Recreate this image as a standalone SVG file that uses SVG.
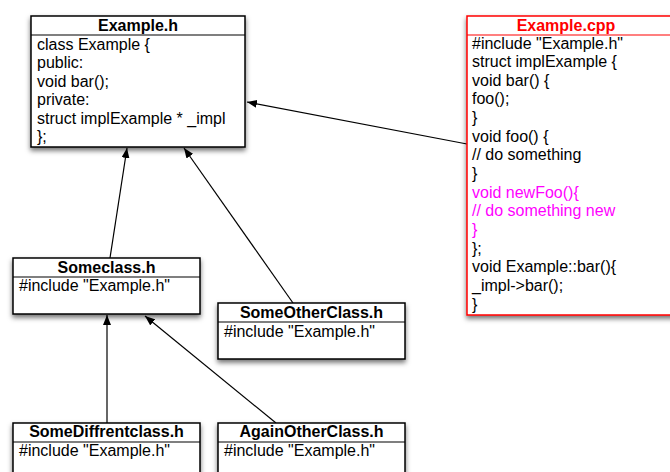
<svg xmlns="http://www.w3.org/2000/svg" width="670" height="472" viewBox="0 0 670 472">
<style>
.box{fill:#fff;stroke:#000;stroke-width:1.5}
.red{fill:#fff;stroke:#f00;stroke-width:1.5}
.sep{stroke:#000;stroke-width:1.2}
.sepr{stroke:#f00;stroke-width:1.2}
text{font-family:"Liberation Sans",Arial,sans-serif;font-size:16px;fill:#000}
.h{font-weight:bold;text-anchor:middle}
.hr{font-weight:bold;text-anchor:middle;fill:#f00}
.m{fill:#f0f}
.c{stroke:#000;stroke-width:1.2;fill:none;marker-end:url(#arr)}
</style>
<defs>
<filter id="sh" x="-10%" y="-10%" width="120%" height="130%">
<feDropShadow dx="0" dy="3" stdDeviation="2.5" flood-color="#000" flood-opacity="0.55"/>
</filter>
<marker id="arr" viewBox="0 0 10 8" refX="10" refY="4" markerWidth="10" markerHeight="8" markerUnits="userSpaceOnUse" orient="auto">
<path d="M0,0 L10,4 L0,8 z" fill="#000"/>
</marker>
</defs>
<g id="connectors">
<line class="c" x1="467" y1="144" x2="247" y2="102"/>
<line class="c" x1="110" y1="258" x2="127" y2="148"/>
<line class="c" x1="293" y1="303" x2="184" y2="148"/>
<line class="c" x1="107" y1="423" x2="107" y2="315"/>
<line class="c" x1="276" y1="423" x2="145" y2="316"/>
</g>
<g id="example_h">
<rect class="box" x="31" y="16" width="214" height="131" filter="url(#sh)"/>
<line class="sep" x1="31" y1="35" x2="245" y2="35"/>
<text class="h" x="138" y="30.5">Example.h</text>
<text x="37" y="49.5">class Example {</text>
<text x="37" y="68">public:</text>
<text x="37" y="86.5">void bar();</text>
<text x="37" y="105">private:</text>
<text x="37" y="123.5">struct implExample * _impl</text>
<text x="37" y="142">};</text>
</g>
<g id="example_cpp">
<rect class="red" x="467" y="16" width="215" height="299" filter="url(#sh)"/>
<line class="sepr" x1="467" y1="35" x2="682" y2="35"/>
<text class="hr" x="566" y="30.5">Example.cpp</text>
<text x="472" y="48.5">#include "Example.h"</text>
<text x="472" y="67.1">struct implExample {</text>
<text x="472" y="85.8">void bar() {</text>
<text x="472" y="104.4">foo();</text>
<text x="472" y="123.1">}</text>
<text x="472" y="141.7">void foo() {</text>
<text x="472" y="160.4">// do something</text>
<text x="472" y="179">}</text>
<text class="m" x="472" y="197.7">void newFoo(){</text>
<text class="m" x="472" y="216.3">// do something new</text>
<text class="m" x="472" y="235">}</text>
<text x="472" y="253.6">};</text>
<text x="472" y="272.3">void Example::bar(){</text>
<text x="472" y="290.9">_impl-&gt;bar();</text>
<text x="472" y="309.6">}</text>
</g>
<g id="someclass_h">
<rect class="box" x="13" y="258" width="187" height="56" filter="url(#sh)"/>
<line class="sep" x1="13" y1="277" x2="200" y2="277"/>
<text class="h" x="106.5" y="272.5">Someclass.h</text>
<text x="19" y="290.5">#include "Example.h"</text>
</g>
<g id="someotherclass_h">
<rect class="box" x="218" y="303" width="187" height="56" filter="url(#sh)"/>
<line class="sep" x1="218" y1="322" x2="405" y2="322"/>
<text class="h" x="311.5" y="317.5">SomeOtherClass.h</text>
<text x="224" y="336.5">#include "Example.h"</text>
</g>
<g id="somediffrentclass_h">
<rect class="box" x="13" y="423" width="187" height="70" filter="url(#sh)"/>
<line class="sep" x1="13" y1="442" x2="200" y2="442"/>
<text class="h" x="106.5" y="437">SomeDiffrentclass.h</text>
<text x="19" y="455.5">#include "Example.h"</text>
</g>
<g id="againotherclass_h">
<rect class="box" x="218" y="423" width="187" height="70" filter="url(#sh)"/>
<line class="sep" x1="218" y1="442" x2="405" y2="442"/>
<text class="h" x="311.5" y="437">AgainOtherClass.h</text>
<text x="224" y="455.5">#include "Example.h"</text>
</g>
</svg>
